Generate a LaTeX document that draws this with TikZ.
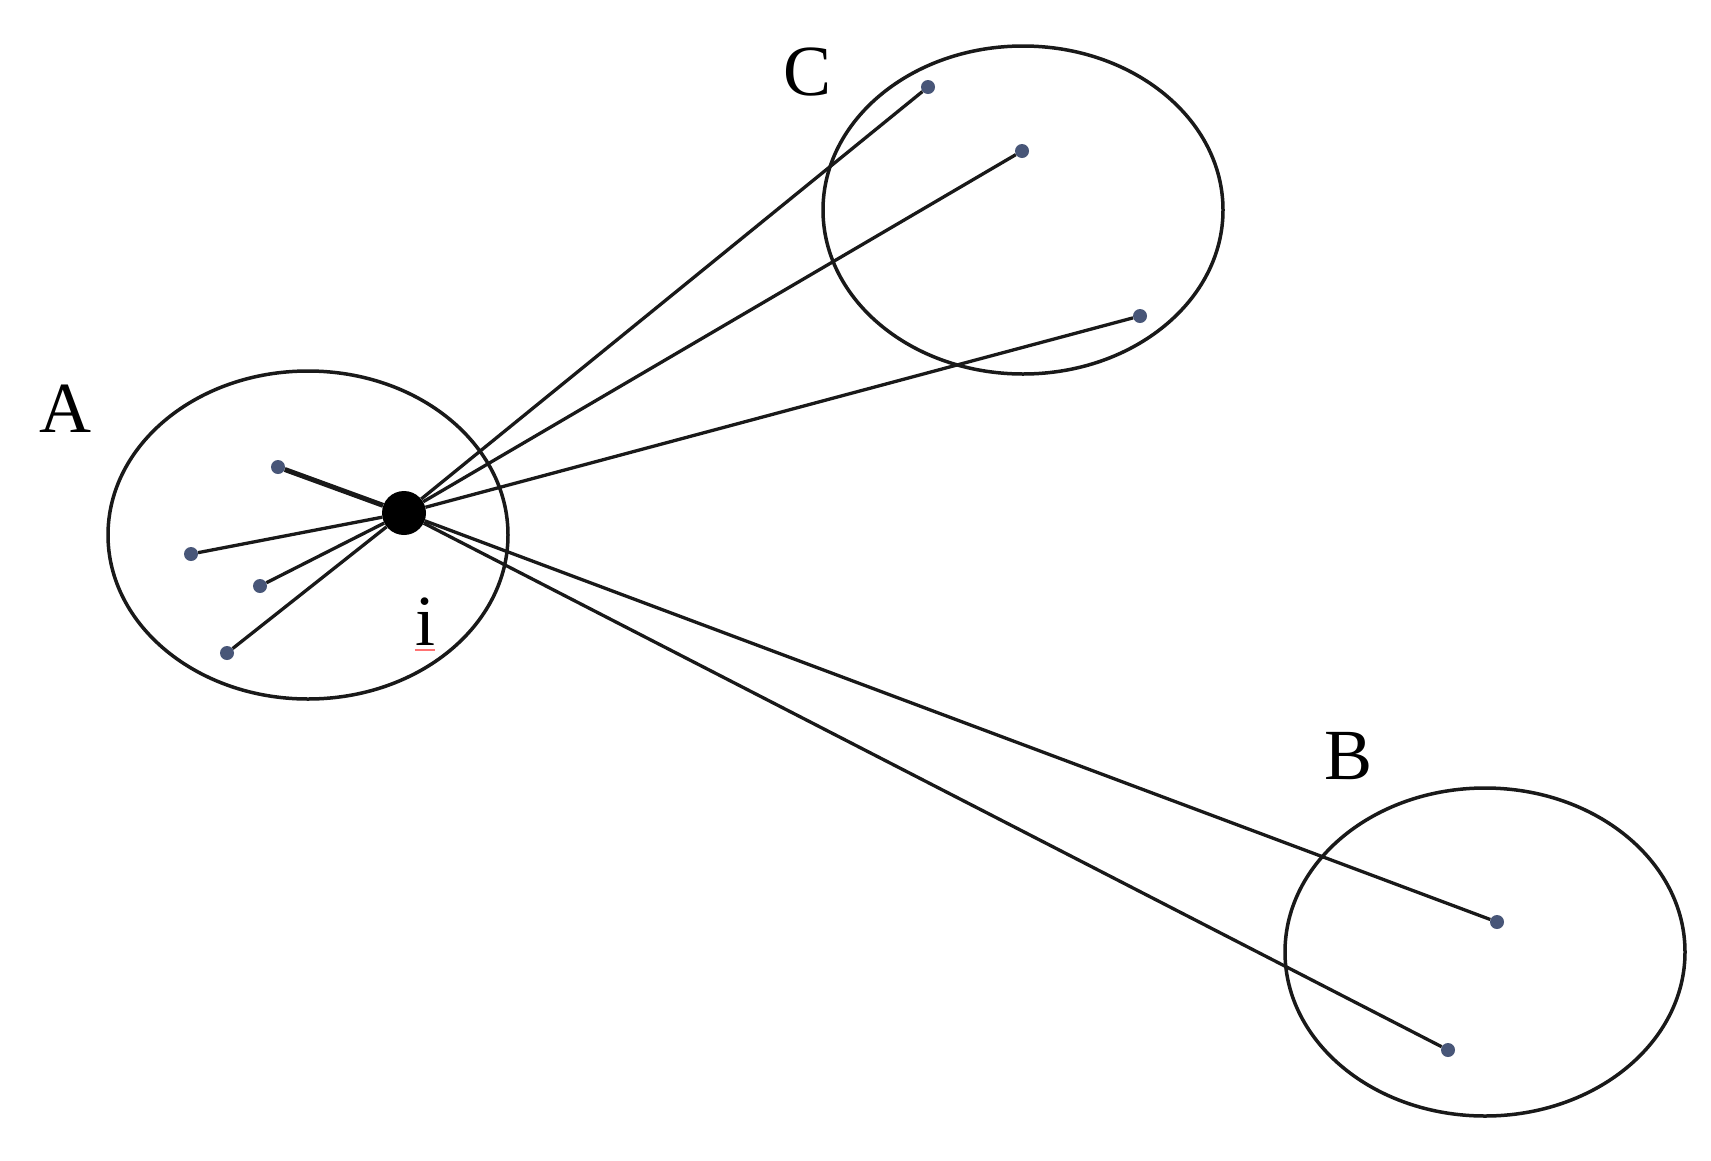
\documentclass[tikz,border=0pt]{standalone}
\usepackage{fontspec}
\setmainfont{Liberation Serif}
\usetikzlibrary{shapes.geometric, positioning}
\definecolor{ptblue}{RGB}{72,86,120}
\definecolor{linkgray}{RGB}{25,25,25}
\tikzset{
  % Cluster outline
  cluster/.style={ellipse, draw=linkgray, line width=3.5pt, minimum width=400pt, minimum height=328pt, inner sep=0pt},
  % Member points and hub
  pt/.style={circle, fill=ptblue, minimum size=14pt, inner sep=0pt},
  hub/.style={circle, fill=black, minimum size=44pt, inner sep=0pt},
  link/.style={line width=3.3pt, color=linkgray},
  lbl/.style={font=\fontsize{72}{80}\selectfont, inner sep=0pt}
}
\begin{document}
\begin{tikzpicture}[x=1pt, y=-1pt]
  \useasboundingbox[fill=white] (0,0) rectangle (1711,1160);

  % Clusters
  \node[cluster] (A) at (308,535) {};
  \node[cluster] (C) at (1023,210) {};
  \node[cluster] (B) at (1485,952) {};

  % Labels
  \node[lbl] (labA) at (65,409) {A};
  \node[lbl] (labC) at (808,72) {C};
  \node[lbl] (labB) at (1348,756) {B};

  % Hub i
  \node[hub] (i) at (404,513) {};
  \node[lbl] (labi) at (425,622) {i};
  \draw[red!55, line width=1.5pt] ([yshift=-4pt]labi.south west) -- ([yshift=-4pt]labi.south east);

  % Points in A
  \node[pt] (a1) at (278,467) {};
  \node[pt] (a2) at (191,554) {};
  \node[pt] (a3) at (260,586) {};
  \node[pt] (a4) at (227,653) {};

  % Points in C
  \node[pt] (c1) at (928,87) {};
  \node[pt] (c2) at (1022,151) {};
  \node[pt] (c3) at (1140,316) {};

  % Points in B
  \node[pt] (b1) at (1497,922) {};
  \node[pt] (b2) at (1448,1050) {};

  % Links from i
  \draw[link, line width=5pt] (i) -- (a1);
  \foreach \p in {a2,a3,a4,c1,c2,c3,b1,b2}
    \draw[link] (i) -- (\p);
\end{tikzpicture}
\end{document}
